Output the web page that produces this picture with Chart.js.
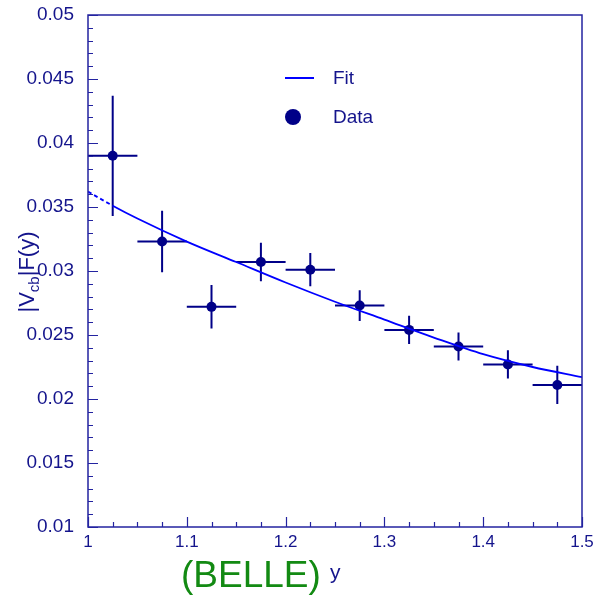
<!DOCTYPE html>
<html>
<head>
<meta charset="utf-8">
<script src="https://cdn.jsdelivr.net/npm/chart.js@4"></script>
<style>
  body { margin: 0; background: #fff; }
  canvas { display: block; }
</style>
</head>
<body>
<canvas id="myChart" width="594" height="596"></canvas>
<script>
// measured points (w = recoil variable y)
var dataX = [1.025, 1.075, 1.125, 1.175, 1.225, 1.275, 1.325, 1.375, 1.425, 1.475];
var dataY = [0.0390, 0.0323, 0.0272, 0.0307, 0.0301, 0.0273, 0.0254, 0.0241, 0.0227, 0.0211];
var xErr = [0.025, 0.025, 0.025, 0.025, 0.025, 0.025, 0.025, 0.025, 0.025, 0.025];
var yErr = [0.0047, 0.0024, 0.0017, 0.0015, 0.0013, 0.0012, 0.0011, 0.0011, 0.0011, 0.0015];

// fit curve
var fitX = [1.0, 1.025, 1.05, 1.1, 1.15, 1.2, 1.25, 1.3, 1.35, 1.4, 1.45, 1.5];
var fitY = [0.0362, 0.0351, 0.0341, 0.0323, 0.0307, 0.0291, 0.0276, 0.0262, 0.0248, 0.0235, 0.0225, 0.0217];

var xTicks = [1, 1.1, 1.2, 1.3, 1.4, 1.5];
var yTicks = [0.01, 0.015, 0.02, 0.025, 0.03, 0.035, 0.04, 0.045, 0.05];

var FONT = '"Liberation Sans", Arial, sans-serif';
var NAVY = '#000088';
var AXIS = '#2323a0';
var TEXT = '#14148c';

function pts(xs, ys) {
    return xs.map(function (x, i) { return { x: x, y: ys[i] }; });
}

var extras = {
    id: 'extras',
    beforeDatasetsDraw: function (chart) {
        var ctx = chart.ctx, xs = chart.scales.x, ys = chart.scales.y;
        ctx.save();
        ctx.strokeStyle = NAVY;
        ctx.lineWidth = 2;
        dataX.forEach(function (x, i) {
            var y = dataY[i];
            var px = xs.getPixelForValue(x), py = ys.getPixelForValue(y);
            ctx.beginPath();
            ctx.moveTo(xs.getPixelForValue(x - xErr[i]), py);
            ctx.lineTo(xs.getPixelForValue(x + xErr[i]), py);
            ctx.moveTo(px, ys.getPixelForValue(y - yErr[i]));
            ctx.lineTo(px, ys.getPixelForValue(y + yErr[i]));
            ctx.stroke();
        });
        ctx.restore();
    },
    afterDraw: function (chart) {
        var ctx = chart.ctx, a = chart.chartArea;
        var xs = chart.scales.x, ys = chart.scales.y;
        ctx.save();
        // frame
        ctx.strokeStyle = AXIS;
        ctx.lineWidth = 1.5;
        ctx.strokeRect(a.left, a.top, a.right - a.left, a.bottom - a.top);
        // inward ticks
        ctx.lineWidth = 1.2;
        ctx.beginPath();
        for (var k = 0; k <= 40; k++) {
            var py = Math.round(ys.getPixelForValue(0.01 + k * 0.001)) + 0.5;
            ctx.moveTo(a.left, py);
            ctx.lineTo(a.left + (k % 5 === 0 ? 10 : 5), py);
        }
        for (var j = 0; j <= 20; j++) {
            var px = Math.round(xs.getPixelForValue(1 + j * 0.025)) + 0.5;
            ctx.moveTo(px, a.bottom);
            ctx.lineTo(px, a.bottom - (j % 4 === 0 ? 10 : 5));
        }
        ctx.stroke();

        // legend
        ctx.strokeStyle = '#0000ff';
        ctx.lineWidth = 2;
        ctx.beginPath();
        ctx.moveTo(285, 78);
        ctx.lineTo(314, 78);
        ctx.stroke();
        ctx.fillStyle = NAVY;
        ctx.beginPath();
        ctx.arc(293, 117, 8, 0, Math.PI * 2);
        ctx.fill();
        ctx.fillStyle = TEXT;
        ctx.font = '19px ' + FONT;
        ctx.textBaseline = 'middle';
        ctx.textAlign = 'left';
        ctx.fillText('Fit', 333, 79);
        ctx.fillText('Data', 333, 118);

        // y axis title |V_cb|F(y)
        ctx.textBaseline = 'alphabetic';
        ctx.translate(34, 272);
        ctx.rotate(-Math.PI / 2);
        ctx.font = '22px ' + FONT;
        var w1 = ctx.measureText('|V').width;
        var w3 = ctx.measureText('|F(y)').width;
        ctx.font = '15px ' + FONT;
        var w2 = ctx.measureText('cb').width;
        var x0 = -(w1 + w2 + w3) / 2;
        ctx.font = '22px ' + FONT;
        ctx.fillText('|V', x0, 0);
        ctx.font = '15px ' + FONT;
        ctx.fillText('cb', x0 + w1, 5);
        ctx.font = '22px ' + FONT;
        ctx.fillText('|F(y)', x0 + w1 + w2, 0);
        ctx.setTransform(1, 0, 0, 1, 0, 0);

        // x axis title
        ctx.fillStyle = '#138a13';
        ctx.font = '37px ' + FONT;
        ctx.fillText('(BELLE)', 181, 587);
        ctx.fillStyle = TEXT;
        ctx.font = '21px ' + FONT;
        ctx.fillText('y', 330, 579);
        ctx.restore();
    }
};

var ctx = document.getElementById('myChart').getContext('2d');
var chart = new Chart(ctx, {
    type: 'scatter',
    data: {
        datasets: [
            {
                label: 'Fit',
                data: pts(fitX, fitY),
                showLine: true,
                borderColor: '#0000ff',
                borderWidth: 1.8,
                pointRadius: 0,
                cubicInterpolationMode: 'monotone',
                segment: {
                    borderDash: function (c) { return c.p0.parsed.x < 1.02 ? [4, 3] : undefined; }
                }
            },
            {
                label: 'Data',
                data: pts(dataX, dataY),
                backgroundColor: NAVY,
                borderColor: NAVY,
                borderWidth: 0,
                pointRadius: 5
            }
        ]
    },
    options: {
        responsive: false,
        animation: false,
        layout: { autoPadding: false, padding: { top: 15, right: 12, left: 0, bottom: 0 } },
        plugins: {
            legend: { display: false },
            tooltip: { enabled: false }
        },
        scales: {
            x: {
                type: 'linear',
                min: 1,
                max: 1.5,
                afterFit: function (s) {
                    s.height = 69;
                    s.paddingLeft = 0; s.paddingRight = 0;
                },
                afterBuildTicks: function (s) { s.ticks = xTicks.map(function (v) { return { value: v }; }); },
                grid: { display: false, drawTicks: false },
                border: { display: false },
                ticks: {
                    padding: 5,
                    color: TEXT,
                    font: { family: FONT, size: 17 },
                    callback: function (v) { return String(Number(v.toFixed(2))); }
                }
            },
            y: {
                type: 'linear',
                min: 0.01,
                max: 0.05,
                afterFit: function (s) {
                    s.width = 88;
                    s.paddingTop = 0; s.paddingBottom = 0;
                },
                afterBuildTicks: function (s) { s.ticks = yTicks.map(function (v) { return { value: v }; }); },
                grid: { display: false, drawTicks: false },
                border: { display: false },
                ticks: {
                    padding: 14,
                    color: TEXT,
                    font: { family: FONT, size: 19 },
                    callback: function (v) { return String(Number(v.toFixed(3))); }
                }
            }
        }
    },
    plugins: [extras]
});
</script>
</body>
</html>
